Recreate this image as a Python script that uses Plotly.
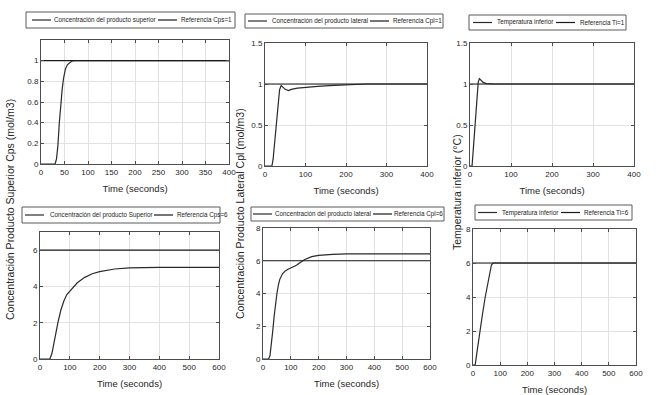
import plotly.graph_objects as go

W, H = 658, 395

# ---------------- data ----------------
# Top-left: Concentración del producto superior (ref 1)
t_tl = [0, 30, 33, 36, 39, 42, 45, 48, 52, 56, 60, 65, 70, 100, 400]
y_tl = [0, 0, 0.05, 0.18, 0.40, 0.58, 0.72, 0.83, 0.92, 0.96, 0.98, 0.995, 1.0, 1.0, 1.0]
ref_tl_t = [0, 400]
ref_tl = [1, 1]

# Top-middle: Concentración del producto lateral (ref 1)
t_tm = [0, 17, 20, 24, 28, 32, 36, 40, 45, 50, 58, 65, 80, 100, 130, 160, 200, 250, 300, 400]
y_tm = [0, 0, 0.08, 0.30, 0.55, 0.78, 0.93, 0.98, 0.96, 0.935, 0.92, 0.935, 0.95, 0.96, 0.97, 0.98, 0.99, 1.0, 1.0, 1.0]
ref_tm_t = [0, 400]
ref_tm = [1, 1]

# Top-right: Temperatura inferior (ref 1)
t_tr = [0, 5, 8, 12, 16, 20, 23, 27, 32, 40, 50, 60, 400]
y_tr = [0, 0, 0.2, 0.5, 0.8, 1.02, 1.065, 1.05, 1.02, 1.005, 1.0, 1.0, 1.0]
ref_tr_t = [0, 400]
ref_tr = [1, 1]

# Bottom-left: Concentración del producto Superior (ref 6)
t_bl = [0, 33, 40, 50, 60, 70, 80, 90, 100, 110, 125, 150, 175, 200, 225, 250, 300, 350, 400, 600]
y_bl = [0, 0, 0.3, 1.2, 2.0, 2.7, 3.2, 3.55, 3.75, 3.95, 4.2, 4.5, 4.7, 4.82, 4.9, 4.96, 5.02, 5.04, 5.05, 5.05]
ref_bl_t = [0, 600]
ref_bl = [6, 6]

# Bottom-middle: Concentración del producto lateral (ref 6)
t_bm = [0, 20, 25, 30, 35, 40, 45, 50, 55, 60, 70, 80, 90, 100, 110, 120, 130, 140, 150, 175, 200, 250, 300, 400, 600]
y_bm = [0, 0, 0.2, 0.8, 1.7, 2.6, 3.4, 4.0, 4.5, 4.85, 5.2, 5.38, 5.48, 5.55, 5.62, 5.72, 5.85, 5.98, 6.08, 6.25, 6.33, 6.39, 6.42, 6.42, 6.42]
ref_bm_t = [0, 600]
ref_bm = [6, 6]

# Bottom-right: Temperatura inferior (ref 6)
t_br = [0, 8, 15, 25, 35, 45, 55, 62, 68, 75, 600]
y_br = [0, 0, 0.8, 2.0, 3.0, 4.0, 4.9, 5.5, 5.9, 6.0, 6.0]
ref_br_t = [0, 600]
ref_br = [6, 6]

names = [
    ("Concentración del producto superior", "Referencia Cps=1"),
    ("Concentración del producto lateral", "Referencia Cpl=1"),
    ("Temperatura inferior", "Referencia Ti=1"),
    ("Concentración del producto Superior", "Referencia Cps=6"),
    ("Concentración del producto lateral", "Referencia Cpl=6"),
    ("Temperatura inferior", "Referencia Ti=6"),
]

y_titles = [
    "Concentración Producto Superior Cps (mol/m3)",
    "Concentración Producto Lateral Cpl (mol/m3)",
    "Temperatura inferior (°C)",
]
x_title = "Time (seconds)"

# ---------------- layout geometry (pixels) ----------------
panels = [
    # x0, x1, ytop, ybot, xmax, xdtick, ymax, ydtick
    (41, 229, 40, 164, 400, 50, 1.2, 0.2),
    (265, 427, 43, 166, 400, 100, 1.5, 0.5),
    (470, 634, 43, 166, 400, 100, 1.5, 0.5),
    (40, 219, 232, 359, 600, 100, 7, 2),
    (263, 430, 228, 359, 600, 100, 8, 2),
    (473, 636, 229, 365, 600, 100, 8, 2),
]
# legend boxes: box x0, x1, y0, y1, sample1 x0, text1 x, sample2 x0, text2 x
legend_geo = [
    (26, 235, 12, 28, 32, 53, 158, 180),
    (245, 443, 14, 28, 248, 271, 370, 392),
    (469, 626, 15, 30, 473, 496, 556, 579),
    (22, 220, 207, 223, 25, 49, 154, 176),
    (251, 444, 207, 221, 253, 274, 373, 393),
    (475, 632, 205, 220, 478, 501, 561, 583),
]

series = [
    (t_tl, y_tl, ref_tl_t, ref_tl),
    (t_tm, y_tm, ref_tm_t, ref_tm),
    (t_tr, y_tr, ref_tr_t, ref_tr),
    (t_bl, y_bl, ref_bl_t, ref_bl),
    (t_bm, y_bm, ref_bm_t, ref_bm),
    (t_br, y_br, ref_br_t, ref_br),
]

FONT = "Liberation Sans, Arial, sans-serif"
TXT = "#262626"
RESP_COLOR = "#2a2a2a"
REF_COLOR = "#1a1a1a"

fig = go.Figure()
layout = dict(
    width=W, height=H,
    margin=dict(l=0, r=0, t=0, b=0),
    paper_bgcolor="white", plot_bgcolor="white",
    showlegend=False,
)
shapes = []
annotations = []

def px(x):
    return x / W

def py(y):
    return 1 - y / H

for i, (p, s, nm, lg) in enumerate(zip(panels, series, names, legend_geo)):
    x0, x1, yt, yb, xmax, xd, ymax, yd = p
    k = "" if i == 0 else str(i + 1)
    t, y, rt, ry = s
    fig.add_trace(go.Scatter(x=t, y=y, mode="lines", name=nm[0],
                             line=dict(color=RESP_COLOR, width=1.2),
                             xaxis="x" + k, yaxis="y" + k))
    fig.add_trace(go.Scatter(x=rt, y=ry, mode="lines", name=nm[1],
                             line=dict(color=REF_COLOR, width=1.2),
                             xaxis="x" + k, yaxis="y" + k))
    common = dict(
        showgrid=True, gridcolor="#e2e2e2", gridwidth=1,
        showline=True, linecolor="#4d4d4d", linewidth=1, mirror="ticks",
        ticks="inside", ticklen=3, tickcolor="#4d4d4d",
        tickfont=dict(family=FONT, size=8, color=TXT), zeroline=False,
        automargin=False,
    )
    ax = dict(common, domain=[px(x0), px(x1)], range=[0, xmax], dtick=xd, tick0=0,
              title=dict(text=x_title, font=dict(family=FONT, size=9.5, color=TXT), standoff=9),
              anchor="y" + k)
    ay = dict(common, domain=[py(yb), py(yt)], range=[0, ymax], dtick=yd, tick0=0,
              anchor="x" + k)
    if i == 0:
        ay["tickvals"] = [0, 0.2, 0.4, 0.6, 0.8, 1]
        ay["ticktext"] = ["0", "0.2", "0.4", "0.6", "0.8", "1"]
    layout["xaxis" + k] = ax
    layout["yaxis" + k] = ay

    # legend box (drawn manually to match the compact MATLAB-style legend)
    bx0, bx1, by0, by1, s1, t1, s2, t2 = lg
    ym = (by0 + by1) / 2
    shapes.append(dict(type="rect", xref="paper", yref="paper",
                       x0=px(bx0), x1=px(bx1), y0=py(by1), y1=py(by0),
                       line=dict(color="#5a5a5a", width=1), fillcolor="white", layer="above"))
    shapes.append(dict(type="line", xref="paper", yref="paper",
                       x0=px(s1), x1=px(s1 + 19), y0=py(ym), y1=py(ym),
                       line=dict(color=RESP_COLOR, width=1.2), layer="above"))
    shapes.append(dict(type="line", xref="paper", yref="paper",
                       x0=px(s2), x1=px(s2 + 19), y0=py(ym), y1=py(ym),
                       line=dict(color=REF_COLOR, width=1.2), layer="above"))
    for tx, label in ((t1, nm[0]), (t2, nm[1])):
        annotations.append(dict(text=label, x=px(tx), y=py(ym), xref="paper", yref="paper",
                                xanchor="left", yanchor="middle", showarrow=False,
                                borderpad=0,
                                font=dict(family=FONT, size=6.3, color="#1a1a1a")))

ann_pos = [(10, 210), (240, 214), (457, 192)]
for txt, (ax_, ay_) in zip(y_titles, ann_pos):
    annotations.append(dict(text=txt, x=px(ax_), y=py(ay_), xref="paper", yref="paper",
                            textangle=-90, showarrow=False, xanchor="center", yanchor="middle",
                            font=dict(family=FONT, size=10.5, color=TXT)))

layout["shapes"] = shapes
layout["annotations"] = annotations
fig.update_layout(**layout)

fig.write_html("out.html",
               config={"displayModeBar": False},
               post_script="document.body.style.margin='0';document.body.style.overflow='hidden';")
